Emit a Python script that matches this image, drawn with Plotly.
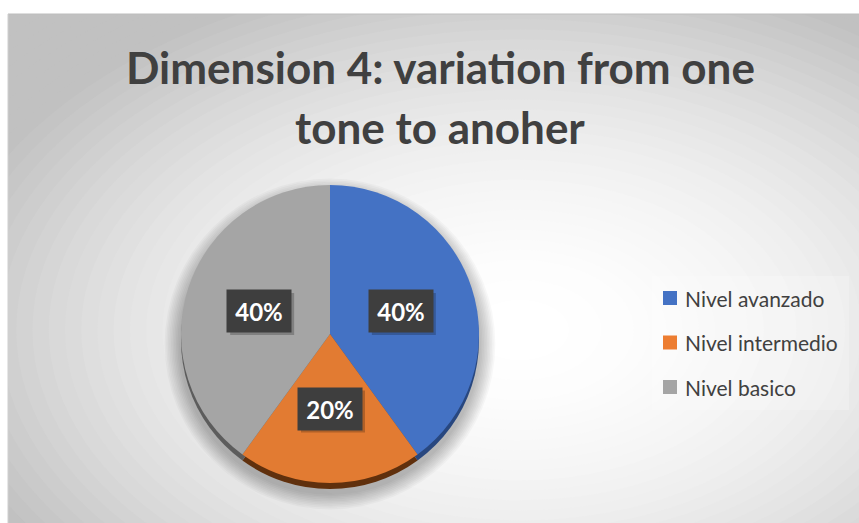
import math
import plotly.graph_objects as go

# Data
categories = ["Nivel avanzado", "Nivel intermedio", "Nivel basico"]
shares = [40, 20, 40]
title_lines = ["Dimension 4: variation from one", "tone to anoher"]

# Styling
slice_colors = ["#4472c4", "#e27b32", "#a5a5a5"]
legend_colors = ["#4472c4", "#ed7d31", "#a5a5a5"]
edge_colors = ["#28477f", "#60300d", "#5c5c5c"]
FONT = "Lato"
TEXT_DARK = "#404040"

W, H = 859, 523
CX, CY, R = 330, 334, 149          # pie centre / radius in pixels
EDGE = 6                           # depth of the bevelled rim
BOX_W, BOX_H = 64, 42              # data-label box size


def px(x):
    return x / W


def py(y):
    return 1 - y / H


shapes = []

# Chart area: radial grey-to-white gradient built from stacked ellipses
AREA_X0, AREA_Y0 = 8, 14
GX, GY, GRX, GRY = 520, 330, 600, 370
shapes.append(dict(type="rect", xref="paper", yref="paper", layer="below",
                   x0=px(AREA_X0), x1=1, y0=0, y1=py(AREA_Y0),
                   fillcolor="#c2c2c2", line=dict(width=0)))
steps = 48
for i in range(steps + 1):
    t = 1.3 * (1 - i / steps)
    v = int(round(255 - 62 * min(t, 1.0) ** 2))
    shapes.append(dict(type="circle", xref="paper", yref="paper", layer="below",
                       x0=px(GX - GRX * t), x1=px(GX + GRX * t),
                       y0=py(GY + GRY * t), y1=py(GY - GRY * t),
                       fillcolor=f"rgb({v},{v},{v})", line=dict(width=0)))

# white page margins around the chart area
shapes.append(dict(type="rect", xref="paper", yref="paper", layer="below",
                   x0=0, x1=1, y0=py(AREA_Y0), y1=1,
                   fillcolor="white", line=dict(width=0)))
shapes.append(dict(type="rect", xref="paper", yref="paper", layer="below",
                   x0=0, x1=px(AREA_X0), y0=0, y1=1,
                   fillcolor="white", line=dict(width=0)))
shapes.append(dict(type="line", xref="paper", yref="paper", layer="below",
                   x0=px(AREA_X0), x1=1, y0=py(AREA_Y0), y1=py(AREA_Y0),
                   line=dict(color="#bdbdbd", width=1)))
shapes.append(dict(type="line", xref="paper", yref="paper", layer="below",
                   x0=px(AREA_X0), x1=px(AREA_X0), y0=0, y1=py(AREA_Y0),
                   line=dict(color="#cfcfcf", width=1)))

# soft drop shadow around the pie
for k in range(10):
    rr = R + 2 + k * 1.6
    shapes.append(dict(type="circle", xref="paper", yref="paper", layer="below",
                       x0=px(CX - rr), x1=px(CX + rr),
                       y0=py(CY + 10 + rr), y1=py(CY + 10 - rr),
                       fillcolor="rgba(0,0,0,0.028)", line=dict(width=0)))

# legend panel
shapes.append(dict(type="rect", xref="paper", yref="paper", layer="below",
                   x0=px(652), x1=px(849), y0=py(410), y1=py(276),
                   fillcolor="rgba(255,255,255,0.22)", line=dict(width=0)))

fig = go.Figure()

# bevelled rim (darker copy of the pie, nudged down)
fig.add_trace(go.Pie(
    labels=categories, values=shares, sort=False, direction="clockwise",
    rotation=0, textinfo="none", hoverinfo="skip", showlegend=False,
    marker=dict(colors=edge_colors, line=dict(width=0)),
    domain=dict(x=[px(CX - R), px(CX + R)],
                y=[py(CY + R + EDGE), py(CY - R + EDGE)]),
))

# main pie
fig.add_trace(go.Pie(
    labels=categories, values=shares, sort=False, direction="clockwise",
    rotation=0, textinfo="none", showlegend=False,
    marker=dict(colors=slice_colors, line=dict(width=0)),
    domain=dict(x=[px(CX - R), px(CX + R)],
                y=[py(CY + R), py(CY - R)]),
))

annotations = []

# title
for line, ty in zip(title_lines, [67, 127]):
    annotations.append(dict(
        text=f"<b>{line}</b>", x=px(440), y=py(ty), xref="paper", yref="paper",
        xanchor="center", yanchor="middle", showarrow=False,
        font=dict(family=FONT, size=44, color=TEXT_DARK)))

# percentage labels in dark boxes, placed half-way out along each slice
total = sum(shares)
cum = 0
for v in shares:
    mid = (cum + v / 2) / total * 2 * math.pi
    cum += v
    lx = CX + 0.5 * R * math.sin(mid)
    ly = CY - 0.5 * R * math.cos(mid)
    pct = f"{v / total * 100:.0f}%"
    # box shadow, offset down-right
    shapes.append(dict(type="rect", xref="paper", yref="paper", layer="above",
                       x0=px(lx - BOX_W / 2 + 3), x1=px(lx + BOX_W / 2 + 3),
                       y0=py(ly + BOX_H / 2 + 3), y1=py(ly - BOX_H / 2 + 3),
                       fillcolor="rgba(0,0,0,0.22)", line=dict(width=0)))
    annotations.append(dict(
        text=f"<b>{pct}</b>", x=px(lx), y=py(ly), xref="paper", yref="paper",
        xanchor="center", yanchor="middle", showarrow=False,
        width=BOX_W, height=BOX_H, borderpad=0, bgcolor="#3e3e3e",
        font=dict(family=FONT, size=24, color="white")))

# legend
for i, (name, col) in enumerate(zip(categories, legend_colors)):
    yc = 298 + i * 44.5
    shapes.append(dict(type="rect", xref="paper", yref="paper",
                       x0=px(663), x1=px(677), y0=py(yc + 7), y1=py(yc - 7),
                       fillcolor=col, line=dict(width=0)))
    annotations.append(dict(
        text=name, x=px(683), y=py(yc), xref="paper", yref="paper",
        xanchor="left", yanchor="middle", showarrow=False,
        font=dict(family=FONT, size=21, color=TEXT_DARK)))

fig.update_layout(
    width=W, height=H, margin=dict(l=0, r=0, t=0, b=0),
    paper_bgcolor="white", plot_bgcolor="white",
    shapes=shapes, annotations=annotations, showlegend=False,
)

fig.write_html("out.html")
